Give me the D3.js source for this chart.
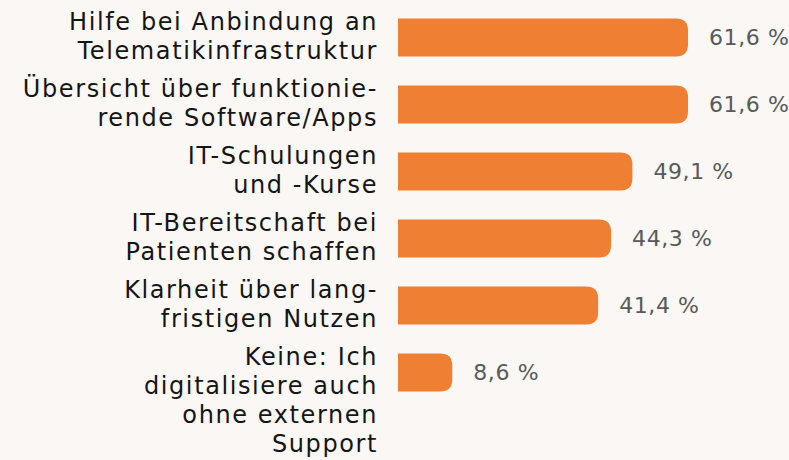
<!DOCTYPE html>
<meta charset="utf-8">
<script src="https://d3js.org/d3.v7.min.js"></script>
<style>
  body { margin: 0; background: #faf7f4; }
  svg { display: block; font-family: "DejaVu Sans", sans-serif; }
</style>
<div id="chart"></div>
<script>

    // labels (already split into lines as in the original) and values in %
    var categories = [
        ["Hilfe bei Anbindung an", "Telematikinfrastruktur"],
        ["Übersicht über funktionie-", "rende Software/Apps"],
        ["IT-Schulungen", "und -Kurse"],
        ["IT-Bereitschaft bei", "Patienten schaffen"],
        ["Klarheit über lang-", "fristigen Nutzen"],
        ["Keine: Ich", "digitalisiere auch", "ohne externen", "Support"]
    ];
    var values = [61.6, 61.6, 49.1, 44.3, 41.4, 8.6];

    var width = 789, height = 460;

    var svg = d3.select("#chart")
      .append("svg")
        .attr("width", width)
        .attr("height", height);

    svg.append("rect")
        .attr("width", width).attr("height", height)
        .attr("fill", "#faf7f4");

    var idx = d3.range(values.length);

    // y: one band per category
    var y = d3.scaleBand()
        .domain(idx)
        .range([5, 405])
        .paddingInner(0.43)
        .paddingOuter(0.2);

    // x: value scale, bars start a bit left of zero (rounded-bar look)
    var x = d3.scaleLinear()
        .domain([0, 61.6])
        .range([414, 688]);
    var stub = 16;
    var r = 12;

    // bars with rounded right end
    function barPath(i) {
        var x0 = x(0) - stub, x1 = x(values[i]);
        var y0 = y(i), h = y.bandwidth();
        var rr = Math.min(r, (x1 - x0) / 2);
        return "M" + x0 + "," + y0 +
            "H" + (x1 - rr) +
            "Q" + x1 + "," + y0 + " " + x1 + "," + (y0 + rr) +
            "V" + (y0 + h - rr) +
            "Q" + x1 + "," + (y0 + h) + " " + (x1 - rr) + "," + (y0 + h) +
            "H" + x0 + "Z";
    }

    svg.selectAll(".bar")
        .data(idx)
        .enter()
        .append("path")
            .attr("class", "bar")
            .attr("d", barPath)
            .attr("fill", "#ee7f33");

    // value labels
    var fmt = function(v) { return d3.format(".1f")(v).replace(".", ",") + " %"; };
    svg.selectAll(".val")
        .data(idx)
        .enter()
        .append("text")
            .attr("class", "val")
            .attr("x", function(i) { return x(values[i]) + 21; })
            .attr("y", function(i) { return y(i) + y.bandwidth() / 2; })
            .attr("dy", "0.36em")
            .attr("fill", "#595959")
            .style("font-size", "22px")
            .style("letter-spacing", "0.6px")
            .text(function(i) { return fmt(values[i]); });

    // category labels, right aligned left of the bars
    var lineH = 29;
    var labels = svg.selectAll(".lab")
        .data(idx)
        .enter()
        .append("text")
            .attr("class", "lab")
            .attr("text-anchor", "end")
            .attr("fill", "#151515")
            .style("font-size", "24px")
            .style("letter-spacing", "1.6px");

    labels.each(function(i) {
        var lines = categories[i];
        var n = Math.min(lines.length, 2);
        var cy = y(i) + y.bandwidth() / 2;
        var first = cy - (n - 1) * lineH / 2 + 7;
        d3.select(this).selectAll("tspan")
            .data(lines)
            .enter()
            .append("tspan")
                .attr("x", 378)
                .attr("y", function(d, k) { return first + k * lineH; })
                .text(function(d) { return d; });
    });

</script>
